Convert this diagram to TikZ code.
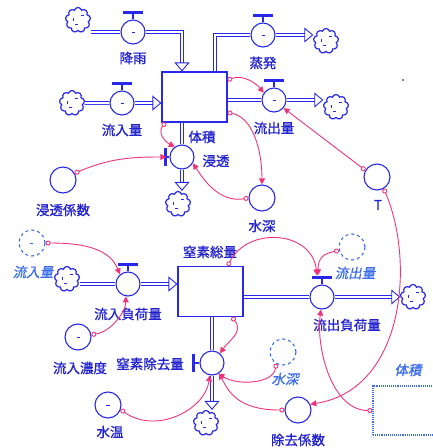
\documentclass[tikz,border=0pt]{standalone}
\usepackage{fontspec}
\newfontfamily\jp[FakeBold=1.2]{Noto Sans CJK JP}
\newfontfamily\jpit[FakeSlant=0.2, FakeBold=1.2]{Noto Sans CJK JP}
\usetikzlibrary{arrows.meta,shapes.symbols,positioning}
\definecolor{vblue}{RGB}{40,40,235}
\definecolor{lblue}{RGB}{35,35,205}
\definecolor{sblue}{RGB}{60,110,235}
\definecolor{lpink}{RGB}{240,50,125}
\newcommand\mk{\rule{3pt}{0.9pt}}

\begin{document}
\begin{tikzpicture}[x=1pt, y=-1pt,
    stock/.style={draw=vblue, fill=white, line width=1.1pt, minimum width=65pt, minimum height=50pt},
    valve/.style={circle, draw=vblue, fill=white, text=vblue, line width=1.1pt, minimum size=24pt, inner sep=0pt},
    aux/.style={circle, draw=vblue, text=vblue, line width=1.1pt, minimum size=26pt, inner sep=0pt},
    shadow/.style={aux, draw=sblue, text=sblue, dashed},
    cloudy/.style={cloud, cloud puffs=9, aspect=1, draw=vblue, line width=1.2pt, minimum width=25pt, minimum height=25pt, inner sep=0pt,
      path picture={\draw[vblue, line width=0.8pt]
        ([shift={(-5pt,-1pt)}]path picture bounding box.center) -- ++(0,-3)
        ([shift={(3pt,4pt)}]path picture bounding box.center) -- ++(3,0)
        ([shift={(0pt,-5pt)}]path picture bounding box.center) -- ++(-3,0);}},
    pipe/.style={draw=vblue, line width=0.9pt, double=white, double distance=2pt},
    flow/.style={pipe, -{Triangle[open, length=9pt, width=15pt]}},
    stem/.style={draw=vblue, line width=1.4pt},
    bar/.style={draw=vblue, line width=2.6pt},
    link/.style={draw=lpink, line width=0.9pt, {Circle[open, length=5pt, width=5pt]}-{Triangle[length=6pt, width=6pt]}},
    lab/.style={text=lblue, font=\jp\fontsize{13.5}{15}\selectfont, inner sep=1pt},
    slab/.style={text=sblue, font=\jpit\fontsize{13.5}{15}\selectfont, inner sep=1pt}]
  \useasboundingbox (0,0) rectangle (433,448);

  % Wasserhaushalt
  \node (vol) [stock] at (194.5,97) {};
  \node (cloudA) [cloudy] at (78,20) {};
  \node (rain) [valve] at (133,32) {\mk};
  \node (cloudB) [cloudy] at (72,103) {};
  \node (inflow) [valve] at (122,103) {\mk};
  \node (evap) [valve] at (263,35) {\mk};
  \node (cloudC) [cloudy] at (326,41) {};
  \node (outflow) [valve] at (274,100) {\mk};
  \node (cloudD) [cloudy] at (336,107) {};
  \node (seep) [valve] at (182,157) {};
  \node (cloudE) [cloudy] at (178,204) {};
  \node (seepcoef) [aux] at (63,180) {};
  \node (depth) [aux] at (262,198) {};
  \node (temp) [aux] at (377,177) {};

  \node (rainL) [lab] at (133,58) {降雨};
  \node (inflowL) [lab] at (122,130) {流入量};
  \node (volL) [lab] at (202,137) {体積};
  \node (evapL) [lab] at (263,63) {蒸発};
  \node (outflowL) [lab] at (274,128) {流出量};
  \node (seepL) [lab] at (216,161) {浸透};
  \node (seepcoefL) [lab] at (63,210) {浸透係数};
  \node (depthL) [lab] at (262,226) {水深};
  \node (tempL) [lab] at (378,205) {T};

  \draw[pipe] (rain.west -| cloudA.east) -- (rain.west);
  \draw[flow] (rain) -| ([xshift=-12.5pt]vol.north);
  \draw[pipe] (cloudB) -- (inflow);
  \draw[flow] (inflow) -- (inflow -| vol.west);
  \draw[pipe] ([xshift=20.5pt]vol.north) |- (evap);
  \draw[flow] (evap) -- (evap -| cloudC.west);
  \draw[pipe] (outflow -| vol.east) -- (outflow);
  \draw[flow] (outflow) -- (outflow -| cloudD.west);
  \draw[pipe] (seep |- vol.south) -- (seep);
  \draw[flow] (seep) -- (seep |- cloudE.north);

  \draw[stem] (rain.north) -- ++(0,-6);
  \draw[bar] (rain.north) ++(-10,-7) -- ++(20,0);
  \draw[stem] (inflow.north) -- ++(0,-6);
  \draw[bar] (inflow.north) ++(-10,-7) -- ++(20,0);
  \draw[stem] (evap.north) -- ++(0,-6);
  \draw[bar] (evap.north) ++(-10,-7) -- ++(20,0);
  \draw[stem] (outflow.north) -- ++(0,-6);
  \draw[bar] (outflow.north) ++(-10,-7) -- ++(20,0);
  \draw[stem] (seep.west) -- ++(-3,0);
  \draw[bar] (seep.west) ++(-4,-9) -- ++(0,18);

  \draw[link] (vol.27) .. controls +(15,-6) and +(-8,-10) .. (outflow.145);
  \draw[link] (vol.-25) .. controls +(25,5) and +(0,-35) .. (depth.north);
  \draw[link] (depth.west) .. controls +(-30,5) and +(10,15) .. (seep.-30);
  \draw[link] (temp.150) -- (outflow.-40);
  \draw[link] (seepcoef.30) .. controls +(35,-15) and +(-35,0) .. ([xshift=-3pt]seep.west);
  \draw[link] ([xshift=4pt]vol.south west) .. controls +(-8,10) and +(-10,-5) .. (seep.125);

  % Stickstoff
  \node (nitro) [stock] at (210.5,291.5) {};
  \node (cloudF) [cloudy] at (67,279) {};
  \node (nin) [valve] at (128,284) {};
  \node (nout) [valve] at (322,297) {};
  \node (cloudH) [cloudy] at (413,297) {};
  \node (nrem) [valve] at (212,363) {};
  \node (cloudG) [cloudy] at (206,423) {};
  \node (qin) [shadow] at (32,243) {\mk};
  \node (cin) [aux] at (78,337) {\mk};
  \node (qout) [shadow] at (352,247) {};
  \node (depth2) [shadow] at (283,352) {};
  \node (wtemp) [aux] at (108,405) {\mk};
  \node (remcoef) [aux] at (298,410) {};
  \node (volsh) [draw=sblue, densely dotted, line width=1.1pt, minimum width=67pt, minimum height=49pt] at (406.5,410.5) {};
  \fill[black] (403,80) circle (0.8pt);

  \node (nitroL) [lab] at (210,252) {窒素総量};
  \node (ninL) [lab] at (128,314) {流入負荷量};
  \node (noutL) [lab] at (347,325) {流出負荷量};
  \node (nremL) [lab] at (150,364) {窒素除去量};
  \node (qinL) [slab] at (33,272) {流入量};
  \node (cinL) [lab] at (80,368) {流入濃度};
  \node (qoutL) [slab] at (355,273) {流出量};
  \node (depth2L) [slab] at (285,379) {水深};
  \node (wtempL) [lab] at (110,432) {水温};
  \node (remcoefL) [lab] at (298,440) {除去係数};
  \node (volshL) [slab] at (408,370) {体積};

  \draw[pipe] (nin -| cloudF.east) -- (nin);
  \draw[flow] (nin) -- (nin -| nitro.west);
  \draw[pipe] (nout -| nitro.east) -- (nout);
  \draw[flow] (nout) -- (nout -| cloudH.west);
  \draw[pipe] (nrem |- nitro.south) -- (nrem);
  \draw[flow] (nrem) -- (nrem |- cloudG.north);

  \draw[stem] (nin.north) -- ++(0,-6);
  \draw[bar] (nin.north) ++(-10,-7) -- ++(20,0);
  \draw[stem] (nout.north) -- ++(0,-6);
  \draw[bar] (nout.north) ++(-10,-7) -- ++(20,0);
  \draw[stem] (nrem.west) -- ++(-5,0);
  \draw[bar] (nrem.west) ++(-6,-9) -- ++(0,18);

  \draw[link] (qin.east) .. controls +(40,0) and +(-10,-25) .. (nin.130);
  \draw[link] (cin.10) .. controls +(20,-3) and +(0,15) .. (nin.-100);
  \draw[link] (nitro.56) .. controls +(20,-40) and +(-5,-45) .. ([xshift=-5pt, yshift=9pt]nout.north);
  \draw[link] (qout.-165) .. controls +(-15,3) and +(0,-18) .. ([xshift=-4pt, yshift=9pt]nout.north);
  \draw[link] (nitro.-50) .. controls +(12,15) and +(8,-12) .. (nrem.50);
  \draw[link] (depth2.-120) .. controls +(-3,20) and +(20,12) .. (nrem.-60);
  \draw[link] (wtemp.-20) .. controls +(35,25) and +(-5,35) .. (nrem.-100);
  \draw[link] (remcoef.west) .. controls +(-45,0) and +(10,20) .. (nrem.-55);
  \draw[link] (volsh.west) .. controls +(-40,0) and +(-5,40) .. (nout.-95);
  \draw[link] (temp.-60) .. controls +(31,72) and +(95,-15) .. (remcoef.25);
\end{tikzpicture}
\end{document}
